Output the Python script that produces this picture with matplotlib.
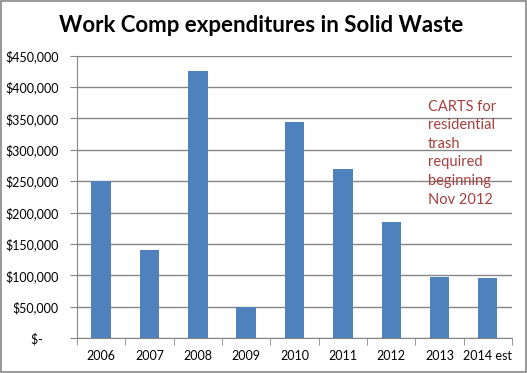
import matplotlib.pyplot as plt
from matplotlib.ticker import FuncFormatter
from matplotlib.patches import Rectangle

years = ["2006", "2007", "2008", "2009", "2010", "2011", "2012", "2013", "2014 est"]
costs = [250000, 140000, 425500, 49000, 344000, 269500, 185000, 97000, 95500]
yticks = list(range(0, 450001, 50000))
note = "CARTS for\nresidential\ntrash\nrequired\nbeginning\nNov 2012"

plt.rcParams['font.family'] = ['Lato', 'DejaVu Sans']

fig = plt.figure(figsize=(5.27, 3.73), dpi=100)
ax = fig.add_axes([77/527, 1 - 338/373, 435/527, 282.3/373])

ax.bar(range(len(years)), costs, width=0.4, color='#4F81BD', zorder=3)

def money(v, pos):
    if v == 0:
        return "$-     "
    return "${:,.0f}".format(v)

ax.set_ylim(0, 450000)
ax.set_yticks(yticks)
ax.yaxis.set_major_formatter(FuncFormatter(money))
ax.set_xlim(-0.5, len(years) - 0.5)
ax.set_xticks(range(len(years)))
ax.set_xticklabels(years)
ax.set_xticks([i - 0.5 for i in range(len(years) + 1)], minor=True)

ax.grid(axis='y', color='#868686', linewidth=1, zorder=0)
for s in ['top', 'right']:
    ax.spines[s].set_visible(False)
for s in ['left', 'bottom']:
    ax.spines[s].set_color('#868686')
ax.tick_params(axis='y', which='major', length=5, color='#868686', labelsize=9, pad=8)
ax.tick_params(axis='x', which='major', length=0, labelsize=9, pad=9)
ax.tick_params(axis='x', which='minor', length=5, color='#868686')

ax.text(6.76, 380000, note, color='#A5403D', fontsize=10.5, va='top', ha='left',
        linespacing=1.42, zorder=4)

fig.text(0.495, 1 - 26/373, "Work Comp expenditures in Solid Waste",
         ha='center', va='center', fontsize=16, fontweight='bold')

fig.patches.append(Rectangle((0.001, 0.002), 0.997, 0.995, transform=fig.transFigure,
                             fill=False, edgecolor='#868686', linewidth=1.2))

fig.savefig("out.png", dpi=100)
